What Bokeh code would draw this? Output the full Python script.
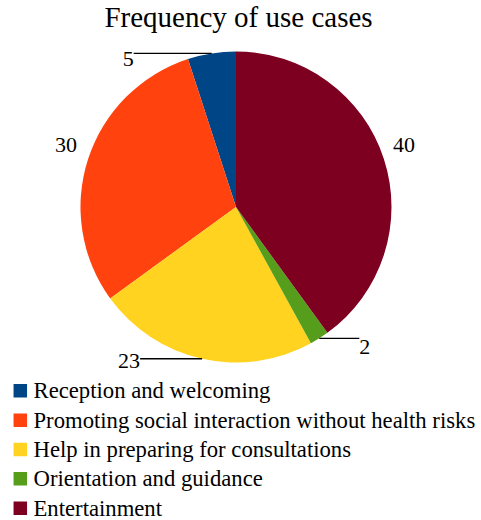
import numpy as np
from bokeh.plotting import figure
from bokeh.models import Range1d, ColumnDataSource
from bokeh.embed import file_html
from bokeh.resources import INLINE
from bokeh.core.properties import value

# ---- data ----
chart_title = "Frequency of use cases"
categories = [
    "Reception and welcoming",
    "Promoting social interaction without health risks",
    "Help in preparing for consultations",
    "Orientation and guidance",
    "Entertainment",
]
counts = [5, 30, 23, 2, 40]
colors = ["#004586", "#ff420e", "#ffd320", "#579d1c", "#7e0021"]

# ---- layout constants (pixels in page coordinates) ----
W, H = 481, 520
FONT = "Liberation Serif"
PIE_CX, PIE_CY, PIE_R = 235.5, 206.5, 155.5
LABEL_R = 166.0
# leader-line labels: category index -> (line length, baseline offset below line)
leaders = {0: (78, 14), 2: (62, 10), 3: (40, 17)}
LEG_X, LEG_Y0, LEG_DY, LEG_SQ = 19.8, 390.3, 29.35, 13.5
TXT_SHIFT = 8.0      # svg text baseline correction for 22px text
TITLE_SHIFT = 7.0


def X(sx):
    return sx


def Y(sy):
    return H - sy


p = figure(width=W, height=H, x_range=Range1d(0, W), y_range=Range1d(0, H),
           output_backend="svg", toolbar_location=None, min_border=0,
           x_axis_type=None, y_axis_type=None)
p.grid.visible = False
p.outline_line_color = None

# ---- pie ----
vals = np.array(counts, dtype=float)
frac = vals / vals.sum()
cum = np.concatenate([[0.0], np.cumsum(frac)])
start = np.pi / 2 + 2 * np.pi * cum[:-1]
end = np.pi / 2 + 2 * np.pi * cum[1:]
src = ColumnDataSource(dict(start=start, end=end, color=colors, cat=categories))
p.wedge(x=X(PIE_CX), y=Y(PIE_CY), radius=PIE_R, start_angle="start", end_angle="end",
        fill_color="color", line_color=None, source=src)

# ---- value labels ----
mid = (start + end) / 2
lx, ly, lt, la = [], [], [], []
line_xs, line_ys = [], []
for i, m in enumerate(mid):
    c, s = np.cos(m), np.sin(m)
    side = 1 if c >= 0 else -1
    if i in leaders:
        L, dy = leaders[i]
        ex = PIE_CX + PIE_R * c
        ey = PIE_CY - PIE_R * s
        line_xs.append([X(ex), X(ex + side * L)])
        line_ys.append([Y(ey), Y(ey)])
        tx = ex + side * L
        ty = ey + dy
    else:
        tx = PIE_CX + LABEL_R * c - 1
        ty = PIE_CY - LABEL_R * s - 3
    lx.append(X(tx))
    ly.append(Y(ty - TXT_SHIFT))
    lt.append(str(counts[i]))
    la.append("left" if side > 0 else "right")

p.multi_line(xs=line_xs, ys=line_ys, line_color="black", line_width=1.3)
p.text(x=lx, y=ly, text=lt, text_align=la, text_baseline="alphabetic",
       text_font=value(FONT), text_font_size="22px", text_color="black")

# ---- title ----
p.text(x=[X(238)], y=[Y(23.3 - TITLE_SHIFT)], text=[chart_title], text_align="center",
       text_baseline="alphabetic", text_font=value(FONT), text_font_size="29px",
       text_color="black")

# ---- legend ----
rows = [LEG_Y0 + i * LEG_DY for i in range(len(categories))]
p.rect(x=[X(LEG_X)] * len(rows), y=[Y(r) for r in rows], width=LEG_SQ, height=LEG_SQ,
       fill_color=colors, line_color=None)
p.text(x=[X(33)] * len(rows), y=[Y(r + 8 - TXT_SHIFT) for r in rows], text=categories,
       text_align="left", text_baseline="alphabetic", text_font=value(FONT),
       text_font_size="22.7px", text_color="black")

open("out.html", "w").write(file_html(p, INLINE))
